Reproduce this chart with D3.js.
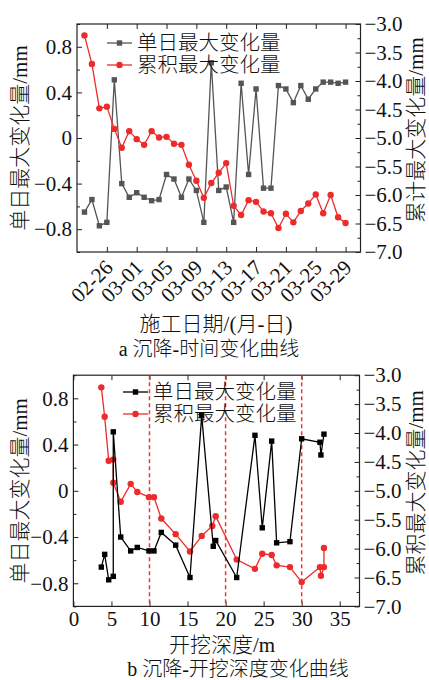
<!DOCTYPE html>
<html>
<head>
<meta charset="utf-8">
<script src="https://cdn.jsdelivr.net/npm/d3@7"></script>
<style>
body { margin: 0; background: #fff; }
text { font-family: "Liberation Serif", "Noto Sans CJK SC", serif; fill: #111; }
</style>
</head>
<body>
<svg id="chart" width="429" height="680"></svg>
<script>
// ---- chart a: settlement vs. date ----
var dates = ["02-23","02-24","02-25","02-26","02-27","02-28","02-29",
  "03-01","03-02","03-03","03-04","03-05","03-06","03-07","03-08","03-09","03-10",
  "03-11","03-12","03-13","03-14","03-15","03-16","03-17","03-18","03-19","03-20",
  "03-21","03-22","03-23","03-24","03-25","03-26","03-27","03-28","03-29"];
var dailyMax = [-0.65,-0.54,-0.77,-0.74,0.51,-0.40,-0.52,-0.48,-0.52,-0.55,-0.54,-0.32,
  -0.36,-0.52,-0.36,-0.46,-0.74,0.66,-0.46,-0.43,-0.74,0.48,-0.32,0.43,-0.44,-0.44,
  0.46,0.43,0.31,0.46,0.34,0.43,0.49,0.49,0.48,0.49];
var cumMax = [-3.20,-3.70,-4.48,-4.45,-4.84,-5.17,-4.88,-5.02,-5.12,-4.88,-4.99,-4.98,
  -5.10,-5.12,-5.47,-5.75,-6.05,-5.79,-5.61,-5.44,-6.19,-6.35,-6.09,-6.12,-6.29,-6.32,
  -6.58,-6.33,-6.48,-6.28,-6.15,-5.99,-6.32,-6.00,-6.39,-6.49];
var dateTicks = ["02-26","03-01","03-05","03-09","03-13","03-17","03-21","03-25","03-29"];

// ---- chart b: settlement vs. excavation depth ----
var depthDaily = [3.67,4.11,4.64,5.24,5.24,6.22,7.53,8.40,9.93,10.59,11.55,13.44,15.32,
  16.86,18.38,18.70,21.46,23.86,24.82,26.06,26.71,28.46,30.0,32.40,32.53,32.93];
var dailyByDepth = [-0.66,-0.55,-0.77,-0.74,0.51,-0.40,-0.52,-0.49,-0.52,-0.52,-0.36,-0.47,
  -0.75,0.65,-0.48,-0.43,-0.75,0.48,-0.32,0.43,-0.45,-0.44,0.45,0.42,0.31,0.49];
var depthCum = [3.67,4.11,4.64,5.24,5.24,6.22,7.53,8.40,9.93,10.59,11.55,13.44,15.32,
  16.86,18.25,18.70,21.46,23.86,24.82,26.06,26.71,28.46,30.0,32.40,32.53,32.93,32.93];
var cumByDepth = [-3.21,-3.72,-4.48,-4.46,-4.86,-5.19,-4.88,-5.02,-5.11,-5.11,-5.48,-5.75,
  -6.05,-5.78,-5.61,-5.44,-6.19,-6.35,-6.09,-6.11,-6.29,-6.32,-6.58,-6.32,-6.47,-6.32,-5.99];
var stageDepths = [10, 20, 30];
var depthTicks = [0,5,10,15,20,25,30,35];

var leftTicks = [0.8,0.4,0,-0.4,-0.8];
var leftMinor = [1.0,0.6,0.2,-0.2,-0.6,-1.0];
var rightTicks = [-3.0,-3.5,-4.0,-4.5,-5.0,-5.5,-6.0,-6.5,-7.0];
var rightMinor = [-3.25,-3.75,-4.25,-4.75,-5.25,-5.75,-6.25,-6.75];

var RED = "#ee2b2b";
var svg = d3.select("#chart");
var parse = d3.utcParse("%Y-%m-%d");
function day(s) { return parse("2020-" + s); }
function leftFmt(d) { return d === 0 ? "0" : d3.format(".1f")(d); }

// shared y axes + frame for one panel
function panel(box, leftTitle, rightTitle) {
  var g = svg.append("g");
  var y = d3.scaleLinear().domain([-1, 1]).range([box.b, box.t]);
  var yR = d3.scaleLinear().domain([-7, -3]).range([box.b, box.t]);

  g.append("g").attr("transform", "translate(" + box.l + ",0)")
    .call(d3.axisLeft(y).tickValues(leftTicks).tickFormat(leftFmt)
      .tickSizeInner(-5).tickSizeOuter(0).tickPadding(5));
  g.append("g").attr("transform", "translate(" + box.l + ",0)")
    .call(d3.axisLeft(y).tickValues(leftMinor).tickFormat("")
      .tickSizeInner(-3).tickSizeOuter(0));
  g.append("g").attr("transform", "translate(" + box.r + ",0)")
    .call(d3.axisRight(yR).tickValues(rightTicks).tickFormat(d3.format(".1f"))
      .tickSizeInner(-5).tickSizeOuter(0).tickPadding(4));
  g.append("g").attr("transform", "translate(" + box.r + ",0)")
    .call(d3.axisRight(yR).tickValues(rightMinor).tickFormat("")
      .tickSizeInner(-3).tickSizeOuter(0));

  g.selectAll(".domain").remove();
  g.selectAll(".tick line").attr("stroke", "#222");
  g.selectAll(".tick text").attr("font-size", 21).attr("fill", "#111");

  g.append("rect")
    .attr("x", box.l).attr("y", box.t)
    .attr("width", box.r - box.l).attr("height", box.b - box.t)
    .attr("fill", "none").attr("stroke", "#222").attr("stroke-width", 1.2);

  g.append("text")
    .attr("transform", "translate(" + box.lt + "," + ((box.t + box.b) / 2) + ") rotate(-90)")
    .attr("text-anchor", "middle").attr("dy", "0.35em")
    .attr("font-size", 21).attr("font-weight", 300).text(leftTitle);
  g.append("text")
    .attr("transform", "translate(" + box.rt + "," + ((box.t + box.b) / 2 - 8) + ") rotate(-90)")
    .attr("text-anchor", "middle").attr("dy", "0.35em")
    .attr("font-size", 21).attr("font-weight", 300).text(rightTitle);
  return { g: g, y: y, yR: yR };
}

function legend(g, x0, y0, items) {
  items.forEach(function(it, i) {
    var yy = y0 + i * 22;
    g.append("line").attr("x1", x0).attr("x2", x0 + 25).attr("y1", yy).attr("y2", yy)
      .attr("stroke", it.color).attr("stroke-width", 1.3);
    if (it.shape === "square") {
      g.append("rect").attr("x", x0 + 12.5 - 2.7).attr("y", yy - 2.7)
        .attr("width", 5.4).attr("height", 5.4).attr("fill", it.color);
    } else {
      g.append("circle").attr("cx", x0 + 12.5).attr("cy", yy).attr("r", 3.2).attr("fill", it.color);
    }
    g.append("text").attr("x", x0 + 30).attr("y", yy).attr("dy", "0.36em")
      .attr("font-size", 20.5).attr("font-weight", 300).text(it.label);
  });
}

function series(g, xs, ys, xScale, yScale, color, shape) {
  var pts = xs.map(function(d, i) { return [xScale(d), yScale(ys[i])]; });
  g.append("path").attr("d", d3.line()(pts))
    .attr("fill", "none").attr("stroke", color).attr("stroke-width", 1.3);
  if (shape === "square") {
    g.selectAll(null).data(pts).enter().append("rect")
      .attr("x", function(p) { return p[0] - 2.7; }).attr("y", function(p) { return p[1] - 2.7; })
      .attr("width", 5.4).attr("height", 5.4).attr("fill", color);
  } else {
    g.selectAll(null).data(pts).enter().append("circle")
      .attr("cx", function(p) { return p[0]; }).attr("cy", function(p) { return p[1]; })
      .attr("r", 3.2).attr("fill", color);
  }
}

// ---------- panel a ----------
var boxA = { l: 77, r: 360.5, t: 24, b: 252, lt: 20, rt: 416 };
var pa = panel(boxA, "单日最大变化量/mm", "累计最大变化量/mm");
var xA = d3.scaleUtc().domain([day("02-22"), day("03-31")]).range([boxA.l, boxA.r]);

var axA = pa.g.append("g").attr("transform", "translate(0," + boxA.b + ")")
  .call(d3.axisBottom(xA).tickValues(dateTicks.map(day))
    .tickFormat(d3.utcFormat("%m-%d")).tickSizeInner(-5).tickSizeOuter(0));
axA.select(".domain").remove();
axA.selectAll(".tick line").attr("stroke", "#222");
axA.selectAll(".tick text")
  .attr("font-size", 21).attr("fill", "#111")
  .attr("x", 0).attr("y", 0).attr("dy", "0.33em")
  .attr("text-anchor", "end")
  .attr("transform", "translate(2,12) rotate(-45)");
var topA = pa.g.append("g").attr("transform", "translate(0," + boxA.t + ")")
  .call(d3.axisTop(xA).tickValues(dateTicks.map(day)).tickFormat("")
    .tickSizeInner(-5).tickSizeOuter(0));
topA.select(".domain").remove();
topA.selectAll(".tick line").attr("stroke", "#222");

var dA = dates.map(day);
series(pa.g, dA, dailyMax, xA, pa.y, "#555", "square");
series(pa.g, dA, cumMax, xA, pa.yR, RED, "circle");
legend(pa.g, 107, 43, [
  { label: "单日最大变化量", color: "#555", shape: "square" },
  { label: "累积最大变化量", color: RED, shape: "circle" }
]);

svg.append("text").attr("x", 216).attr("y", 331).attr("text-anchor", "middle")
  .attr("font-size", 21).attr("font-weight", 300).text("施工日期/(月-日)");
svg.append("text").attr("x", 209).attr("y", 356).attr("text-anchor", "middle")
  .attr("font-size", 20).attr("font-weight", 300).text("a 沉降-时间变化曲线");

// ---------- panel b ----------
var boxB = { l: 73.4, r: 359.5, t: 375.2, b: 606.4, lt: 20, rt: 416 };
var pb = panel(boxB, "单日最大变化量/mm", "累积最大变化量/mm");
var xB = d3.scaleLinear().domain([0, 37.6]).range([boxB.l, boxB.r]);

var axB = pb.g.append("g").attr("transform", "translate(0," + boxB.b + ")")
  .call(d3.axisBottom(xB).tickValues(depthTicks).tickFormat(d3.format("d"))
    .tickSizeInner(-5).tickSizeOuter(0).tickPadding(5));
axB.select(".domain").remove();
axB.selectAll(".tick line").attr("stroke", "#222");
axB.selectAll(".tick text").attr("font-size", 21).attr("fill", "#111");
var topB = pb.g.append("g").attr("transform", "translate(0," + boxB.t + ")")
  .call(d3.axisTop(xB).tickValues(depthTicks).tickFormat("")
    .tickSizeInner(-5).tickSizeOuter(0));
topB.select(".domain").remove();
topB.selectAll(".tick line").attr("stroke", "#222");

pb.g.selectAll(null).data(stageDepths).enter().append("line")
  .attr("x1", function(d) { return xB(d); }).attr("x2", function(d) { return xB(d); })
  .attr("y1", boxB.t).attr("y2", boxB.b)
  .attr("stroke", "#f03535").attr("stroke-width", 1.5).attr("stroke-dasharray", "4,3");

series(pb.g, depthCum, cumByDepth, xB, pb.yR, RED, "circle");
series(pb.g, depthDaily, dailyByDepth, xB, pb.y, "#000", "square");
legend(pb.g, 123, 392, [
  { label: "单日最大变化量", color: "#000", shape: "square" },
  { label: "累积最大变化量", color: RED, shape: "circle" }
]);

svg.append("text").attr("x", 222).attr("y", 652).attr("text-anchor", "middle")
  .attr("font-size", 21).attr("font-weight", 300).text("开挖深度/m");
svg.append("text").attr("x", 238).attr("y", 676).attr("text-anchor", "middle")
  .attr("font-size", 20).attr("font-weight", 300).text("b 沉降-开挖深度变化曲线");
</script>
</body>
</html>
